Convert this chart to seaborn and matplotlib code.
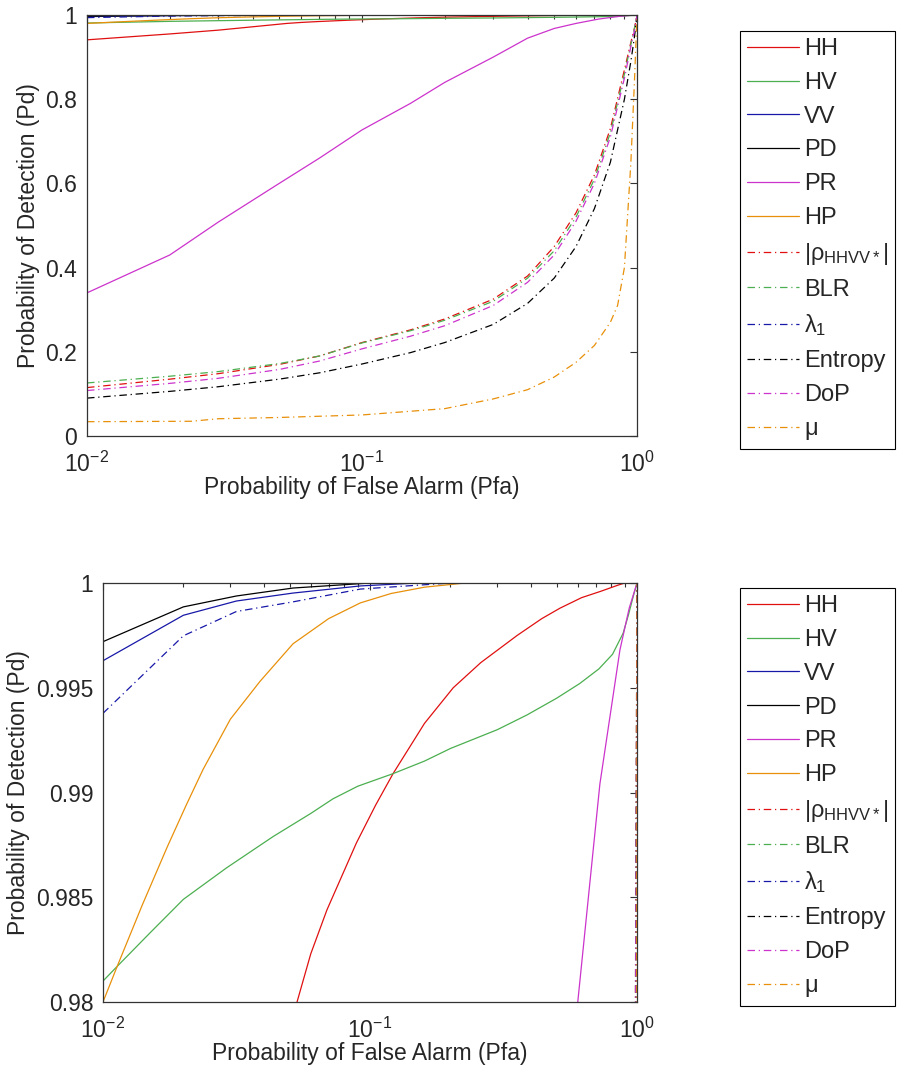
import numpy as np
import pandas as pd
import matplotlib
matplotlib.use("Agg")
import matplotlib.pyplot as plt
import seaborn as sns
from matplotlib.ticker import LogLocator, FormatStrFormatter, NullFormatter

# ---------------- data ----------------
HH_x = [0.01, 0.02, 0.03, 0.04, 0.0533, 0.06, 0.069, 0.089, 0.105, 0.122, 0.16, 0.205, 0.26, 0.356,
        0.44, 0.515, 0.62, 0.73, 0.85, 0.9, 1.0]
HH_y = [0.941, 0.955, 0.964, 0.972, 0.980, 0.9823, 0.9844, 0.9876, 0.9894, 0.9909, 0.9933, 0.9950,
        0.9962, 0.9975, 0.9983, 0.9988, 0.9993, 0.9996, 0.9999, 1.0, 1.0]

HV_x = [0.01, 0.0113, 0.015, 0.02, 0.029, 0.0434, 0.06, 0.0727, 0.09, 0.122, 0.16, 0.2, 0.3, 0.387,
        0.5, 0.61, 0.72, 0.81, 0.887, 0.93, 0.97, 1.0]
HV_y = [0.9810, 0.9817, 0.9833, 0.9849, 0.9864, 0.9879, 0.9890, 0.9897, 0.9903, 0.9909, 0.9915,
        0.9921, 0.9930, 0.9937, 0.9945, 0.9952, 0.9959, 0.9966, 0.9976, 0.9985, 0.9994, 1.0]

VV_x = [0.01, 0.02, 0.0316, 0.0515, 0.092, 0.15, 1.0]
VV_y = [0.99629, 0.99846, 0.99914, 0.99952, 0.99986, 1.0, 1.0]

PD_x = [0.01, 0.02, 0.0316, 0.0515, 0.1, 1.0]
PD_y = [0.9972, 0.99886, 0.99938, 0.99976, 1.0, 1.0]

PR_x = [0.01, 0.02, 0.03, 0.05, 0.07, 0.1, 0.15, 0.2, 0.3, 0.4, 0.5, 0.6, 0.726, 0.863, 0.935, 1.0]
PR_y = [0.34, 0.43, 0.508, 0.60, 0.66, 0.727, 0.79, 0.84, 0.90, 0.945, 0.968, 0.98, 0.9904,
        0.9968, 0.9988, 1.0]

HP_x = [0.01, 0.0113, 0.014, 0.0174, 0.0205, 0.0237, 0.03, 0.0387, 0.0515, 0.07, 0.092, 0.12,
        0.16, 0.227, 1.0]
HP_y = [0.9800, 0.9817, 0.9846, 0.9874, 0.9894, 0.9911, 0.9935, 0.9953, 0.9971, 0.9983, 0.99905,
        0.99950, 0.9998, 1.0, 1.0]

GRP_x = [0.01, 0.02, 0.03, 0.05, 0.07, 0.1, 0.15, 0.2, 0.3, 0.4, 0.5, 0.6, 0.7, 0.8, 0.9, 0.95, 0.98, 1.0]
RHO_y = [0.115, 0.135, 0.148, 0.170, 0.19, 0.222, 0.252, 0.278, 0.325, 0.38, 0.45, 0.53, 0.62,
         0.73, 0.87, 0.935, 0.97, 1.0]
BLR_y = [0.126, 0.142, 0.153, 0.172, 0.19, 0.221, 0.25, 0.275, 0.32, 0.375, 0.44, 0.52, 0.61,
         0.72, 0.86, 0.93, 0.97, 1.0]
DOP_y = [0.108, 0.125, 0.137, 0.158, 0.178, 0.207, 0.237, 0.262, 0.31, 0.365, 0.43, 0.51, 0.60,
         0.71, 0.85, 0.925, 0.965, 1.0]
ENT_y = [0.09, 0.106, 0.117, 0.135, 0.15, 0.171, 0.198, 0.222, 0.265, 0.315, 0.375, 0.45, 0.54,
         0.65, 0.80, 0.89, 0.95, 1.0]

LAM_x = [0.01, 0.02, 0.0316, 0.0515, 0.092, 0.2, 1.0]
LAM_y = [0.99378, 0.99748, 0.99864, 0.9991, 0.99971, 1.0, 1.0]

MU_x = [0.01, 0.024, 0.03, 0.05, 0.1, 0.2, 0.3, 0.4, 0.5, 0.6, 0.7, 0.8, 0.85, 0.9, 0.95, 0.98, 1.0]
MU_y = [0.034, 0.035, 0.041, 0.044, 0.05, 0.065, 0.088, 0.11, 0.14, 0.175, 0.215, 0.27, 0.31,
        0.40, 0.65, 0.85, 1.0]

labels = ["HH", "HV", "VV", "PD", "PR", "HP",
          r"|$\rho_{\mathrm{HHVV*}}$|", "BLR", r"$\lambda_1$", "Entropy", "DoP", r"$\mu$"]
series_x = [HH_x, HV_x, VV_x, PD_x, PR_x, HP_x, GRP_x, GRP_x, LAM_x, GRP_x, GRP_x, MU_x]
series_y = [HH_y, HV_y, VV_y, PD_y, PR_y, HP_y, RHO_y, BLR_y, LAM_y, ENT_y, DOP_y, MU_y]

top_yticks = [0, 0.2, 0.4, 0.6, 0.8, 1]
bot_yticks = [0.98, 0.985, 0.99, 0.995, 1]

# ---------------- style ----------------
sns.set_theme(style="white")
plt.rcParams["font.family"] = ["Liberation Sans", "DejaVu Sans"]
plt.rcParams["mathtext.fontset"] = "custom"
plt.rcParams["mathtext.rm"] = "Liberation Sans"
plt.rcParams["mathtext.it"] = "Liberation Sans"
plt.rcParams["mathtext.bf"] = "Liberation Sans:bold"

base_colors = ["#e01010", "#4caf50", "#1818a8", "#000000", "#cc33cc", "#e8900a"]
colors = base_colors + base_colors
solid = [True] * 6 + [False] * 6

FS = 16.5
LFS = 17

fig = plt.figure(figsize=(9.04, 10.73), dpi=100)
ax1 = fig.add_axes([87 / 904, 1 - 436 / 1073, 550 / 904, 421 / 1073])
ax2 = fig.add_axes([103 / 904, 1 - 1002 / 1073, 534 / 904, 419 / 1073])


def draw(ax, ylim, yticks):
    for xs, ys, lab, c, s in zip(series_x, series_y, labels, colors, solid):
        df = pd.DataFrame({"x": xs, "y": ys})
        sns.lineplot(data=df, x="x", y="y", ax=ax, color=c, lw=0.9,
                     label=lab, sort=False, estimator=None)
        ln = ax.get_lines()[-1]
        if not s:
            ln.set_dashes((6, 3, 1, 3))
    ax.set_xscale("log")
    ax.set_xlim(0.01, 1)
    ax.set_ylim(*ylim)
    ax.set_yticks(yticks)
    ax.yaxis.set_major_formatter(FormatStrFormatter("%g"))
    ax.xaxis.set_major_locator(LogLocator(base=10, numticks=5))
    ax.xaxis.set_minor_locator(LogLocator(base=10, subs=np.arange(2, 10), numticks=5))
    ax.xaxis.set_minor_formatter(NullFormatter())
    ax.tick_params(which="both", direction="in", top=True, right=True,
                   labelsize=FS, color="#333333")
    ax.tick_params(which="major", length=5, width=0.8)
    ax.tick_params(which="minor", length=3, width=0.8)
    ax.tick_params(axis="x", which="major", pad=11)
    ax.tick_params(axis="y", which="major", pad=7)
    for sp in ax.spines.values():
        sp.set_color("#333333")
        sp.set_linewidth(0.9)
    ax.set_xlabel("Probability of False Alarm (Pfa)", fontsize=FS, labelpad=0)
    ax.set_ylabel("Probability of Detection (Pd)", fontsize=FS, labelpad=4)
    h, l = ax.get_legend_handles_labels()
    ax.get_legend().remove()
    return h, l


h1, l1 = draw(ax1, (0, 1), top_yticks)
h2, l2 = draw(ax2, (0.98, 1), bot_yticks)

for h, l, ytop in [(h1, l1, 31), (h2, l2, 588)]:
    leg = fig.legend(h, l, loc="upper left", bbox_to_anchor=(740 / 904, 1 - ytop / 1073),
                     borderaxespad=0, fontsize=LFS, frameon=True, fancybox=False,
                     framealpha=1, edgecolor="black", handlelength=2.2,
                     handletextpad=0.2, labelspacing=0.5, borderpad=0.3)
    leg.get_frame().set_linewidth(0.8)

fig.savefig("out.png", dpi=100, facecolor="white")
